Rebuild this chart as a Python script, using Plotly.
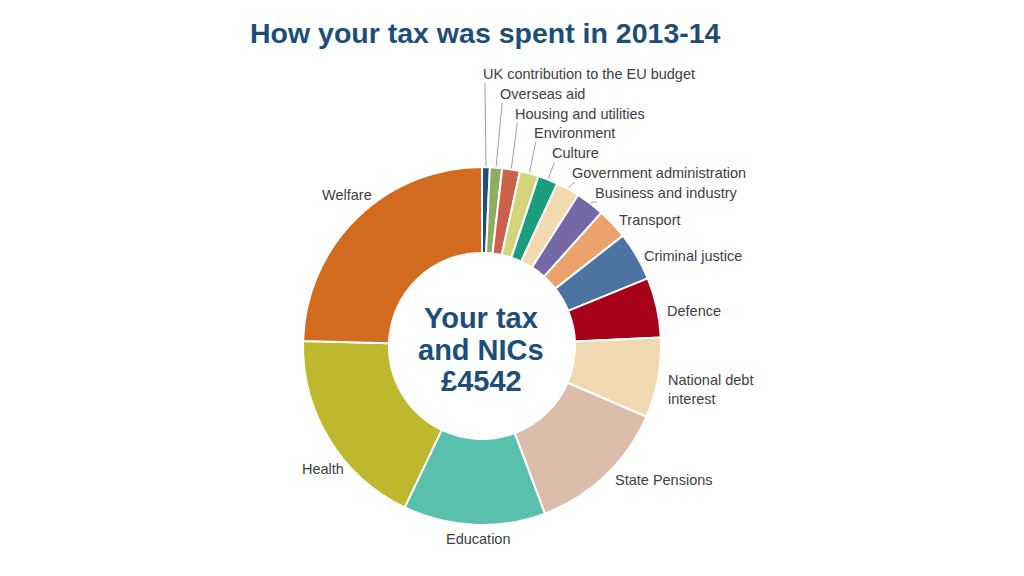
import math
import plotly.graph_objects as go

# ---- data ----
categories = [
    "UK contribution to the EU budget", "Overseas aid", "Housing and utilities",
    "Environment", "Culture", "Government administration", "Business and industry",
    "Transport", "Criminal justice", "Defence", "National debt<br>interest",
    "State Pensions", "Education", "Health", "Welfare",
]
shares = [0.7, 1.1, 1.6, 1.7, 1.8, 2.1, 2.6, 2.8, 4.4, 5.4, 7.2, 12.8, 12.8, 18.3, 24.5]
colors = [
    "#1f4e7d", "#8fac62", "#cc614e", "#d4d47c", "#1a9e7e", "#f2dab0", "#7468a6",
    "#eca26a", "#4d73a2", "#a6001a", "#f0d8b0", "#dcbcaa", "#5ac0ae", "#bdb82e", "#d26a20",
]
title_text = "How your tax was spent in 2013-14"
center_lines = ["Your tax", "and NICs", "£4542"]

# ---- layout constants (pixels) ----
W, H = 1024, 576
CX, CY, R = 482, 346, 179
HOLE = 0.52
N_STACKED = 7            # small slices labelled in a stacked column with leader lines
STACK_TOP, STACK_STEP = 74, 19.8
LABEL_PAD = 6
nudges = {  # (dx, dy) pixel tweaks for best-fit style placement
    "Criminal justice": (0, 3),
    "Defence": (2, 5),
    "National debt<br>interest": (2, 10),
    "State Pensions": (3, 0),
    "Education": (5, -2),
    "Health": (22, 27),
    "Welfare": (21, -18),
}
TEXT_COLOR = "#404040"
DARK_BLUE = "#1d4e79"
FONT = "Liberation Sans, Arial, sans-serif"


def px(x):
    return x / W


def py(y):
    return 1 - y / H


fig = go.Figure(go.Pie(
    labels=categories,
    values=shares,
    sort=False,
    direction="clockwise",
    rotation=0,
    hole=HOLE,
    marker=dict(colors=colors, line=dict(color="white", width=2)),
    textinfo="none",
    hoverinfo="label+percent",
    showlegend=False,
    domain=dict(x=[px(CX - R), px(CX + R)], y=[py(CY + R), py(CY - R)]),
))

total = sum(shares)
annotations = []
shapes = []
cum = 0.0
for i, (name, v) in enumerate(zip(categories, shares)):
    mid = (cum + v / 2) / total * 2 * math.pi
    cum += v
    s, c = math.sin(mid), math.cos(mid)
    if i < N_STACKED:
        ax, ay = CX + (R + 1) * s, CY - (R + 1) * c
        lx = ax + 2 if i > 0 else ax - 5
        ly = STACK_TOP + i * STACK_STEP
        shapes.append(dict(type="line", xref="paper", yref="paper",
                           x0=px(ax), y0=py(ay), x1=px(lx + 4), y1=py(ly + 9),
                           line=dict(color="#a0a0a0", width=1)))
        annotations.append(dict(x=px(lx), y=py(ly), xref="paper", yref="paper",
                                text=name, showarrow=False, xanchor="left", yanchor="middle",
                                font=dict(size=14.5, color=TEXT_COLOR, family=FONT)))
    else:
        lx, ly = CX + (R + LABEL_PAD) * s, CY - (R + LABEL_PAD) * c
        dx, dy = nudges.get(name, (0, 0))
        lx += dx
        ly += dy
        if abs(s) < 0.2:
            xa, ya = "center", ("top" if c < 0 else "bottom")
        else:
            xa, ya = ("left" if s > 0 else "right"), "middle"
        annotations.append(dict(x=px(lx), y=py(ly), xref="paper", yref="paper",
                                text=name, showarrow=False, xanchor=xa, yanchor=ya, align="left",
                                font=dict(size=14.5, color=TEXT_COLOR, family=FONT)))

# centre text
LINE_H = 31.5
for k, t in enumerate(center_lines):
    annotations.append(dict(x=px(CX - 1), y=py(CY - 28 + k * LINE_H), xref="paper", yref="paper",
                            text=f"<b>{t}</b>", showarrow=False, xanchor="center", yanchor="middle",
                            font=dict(size=29, color=DARK_BLUE, family=FONT)))

# title
annotations.append(dict(x=px(485), y=py(33), xref="paper", yref="paper",
                        text=f"<b>{title_text}</b>", showarrow=False,
                        xanchor="center", yanchor="middle",
                        font=dict(size=28.5, color=DARK_BLUE, family=FONT)))

fig.update_layout(
    width=W, height=H,
    margin=dict(l=0, r=0, t=0, b=0),
    paper_bgcolor="white", plot_bgcolor="white",
    annotations=annotations, shapes=shapes,
)

fig.write_html("out.html")
